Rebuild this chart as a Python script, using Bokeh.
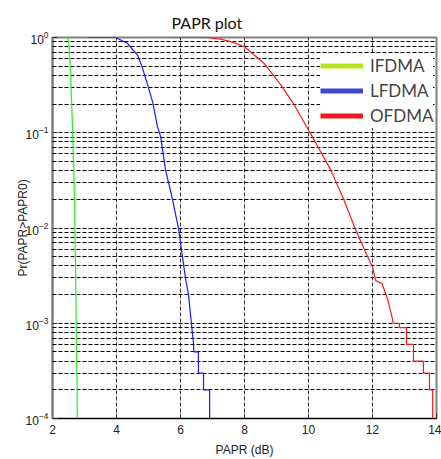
from bokeh.plotting import figure
from bokeh.models import Legend, LegendItem, FixedTicker
from bokeh.embed import file_html
from bokeh.resources import INLINE

# ---- data ----
x_ticks = [2, 4, 6, 8, 10, 12, 14]
y_ticks = [1e-4, 1e-3, 1e-2, 1e-1, 1]

ifdma_x = [2.34, 2.48, 2.50, 2.53, 2.56, 2.60, 2.63, 2.66, 2.69, 2.70, 2.72, 2.74, 2.75, 2.77, 2.78]
ifdma_y = [1, 1, 0.93, 0.7, 0.45, 0.2, 0.1, 0.045, 0.02, 0.01, 0.004, 0.001, 5e-4, 2e-4, 1e-5]

lfdma_x = [3.10, 3.97, 4.34, 4.66, 4.81, 4.97, 5.13, 5.28, 5.38, 5.53, 5.75, 5.94, 6.16, 6.25,
           6.34, 6.40, 6.42, 6.56, 6.56, 6.72, 6.72, 6.91, 6.91]
lfdma_y = [1, 1, 0.87, 0.65, 0.48, 0.32, 0.21, 0.116, 0.091, 0.041, 0.02, 0.0098, 0.0029, 0.002,
           0.001, 6.5e-4, 5e-4, 5e-4, 3e-4, 3e-4, 2e-4, 2e-4, 1e-5]

ofdma_x = [5.80, 6.80, 7.25, 7.60, 8.00, 8.60, 9.13, 9.50, 10.05, 10.69, 11.10, 11.45, 11.78,
           12.00, 12.10, 12.30, 12.47, 12.60, 12.65, 12.84, 12.84, 13.06, 13.06, 13.28, 13.28,
           13.59, 13.59, 13.78, 13.78, 13.88, 13.88]
ofdma_y = [1, 1, 0.96, 0.9, 0.8, 0.54, 0.32, 0.21, 0.1, 0.041, 0.02, 0.01, 0.0056,
           0.0039, 0.0028, 0.0026, 0.0018, 0.0012, 0.001, 0.001, 9e-4, 9e-4, 6e-4, 6e-4, 4e-4,
           4e-4, 3e-4, 3e-4, 2e-4, 2e-4, 1e-5]

labels = ["IFDMA", "LFDMA", "OFDMA"]
line_colors = ["#33ee33", "#1a1aff", "#ff1a1a"]
legend_colors = ["#b5e61d", "#3f48cc", "#ed1c24"]

p = figure(width=441, height=459, x_range=(2, 14), y_range=(1e-4, 1), y_axis_type="log",
           output_backend="svg", toolbar_location=None,
           min_border_left=52, min_border_right=5, min_border_top=37, min_border_bottom=38)

p.title.text = "PAPR plot"
p.title.align = "left"
p.title.offset = 119
p.title.text_font = "Lato"
p.title.text_font_size = "16px"
p.title.text_font_style = "normal"
p.title.text_color = "#111111"
p.title.standoff = 12

p.outline_line_color = "#808080"
p.outline_line_width = 2

minor = [m * t for t in y_ticks[:-1] for m in range(2, 10)]
p.xaxis.ticker = FixedTicker(ticks=x_ticks)
p.yaxis.ticker = FixedTicker(ticks=y_ticks, minor_ticks=minor)

for ax in (p.xaxis[0], p.yaxis[0]):
    ax.major_tick_in = 5
    ax.major_tick_out = 0
    ax.major_label_text_font = "Liberation Sans"
    ax.major_label_text_font_size = "12px"
    ax.major_label_text_color = "#222222"
    ax.axis_label_text_font = "Liberation Sans"
    ax.axis_label_text_font_size = "12px"
    ax.axis_label_text_font_style = "normal"
    ax.axis_label_text_color = "#222222"
    ax.major_tick_line_color = "#333333"

p.xaxis.minor_tick_line_color = None
p.xaxis.axis_line_color = "black"
p.xaxis.major_label_standoff = 6
p.xaxis.axis_label = "PAPR (dB)"
p.xaxis.axis_label_standoff = 6

p.yaxis.minor_tick_in = 3
p.yaxis.minor_tick_out = 0
p.yaxis.axis_line_color = "#808080"
p.yaxis.axis_line_width = 2
p.yaxis.major_label_standoff = 4
p.yaxis.axis_label = "Pr(PAPR>PAPR0)"
p.yaxis.axis_label_standoff = -7

p.xgrid.grid_line_color = "black"
p.xgrid.grid_line_dash = "4 2"
p.xgrid.grid_line_alpha = 0.8
p.ygrid.grid_line_color = "black"
p.ygrid.grid_line_dash = "4 2"
p.ygrid.minor_grid_line_color = "black"
p.ygrid.minor_grid_line_dash = "4 2"

p.line(ifdma_x, ifdma_y, line_color=line_colors[0], line_width=1.3)
p.line(lfdma_x, lfdma_y, line_color=line_colors[1], line_width=1.2)
p.line(ofdma_x, ofdma_y, line_color=line_colors[2], line_width=1.2)

nan = float("nan")
items = []
for lab, col in zip(labels, legend_colors):
    r = p.line(x=[nan, nan], y=[nan, nan], line_color=col, line_width=5)
    items.append(LegendItem(label=lab, renderers=[r]))

legend = Legend(items=items, location=(268, 290), background_fill_color="white",
                background_fill_alpha=1.0, border_line_color=None, padding=5, margin=0,
                spacing=0, glyph_width=43, glyph_height=25, label_height=25,
                label_standoff=7, label_text_font="Lato", label_text_font_size="17px",
                label_width=60)
p.add_layout(legend)

open("out.html", "w").write(file_html(p, INLINE))
